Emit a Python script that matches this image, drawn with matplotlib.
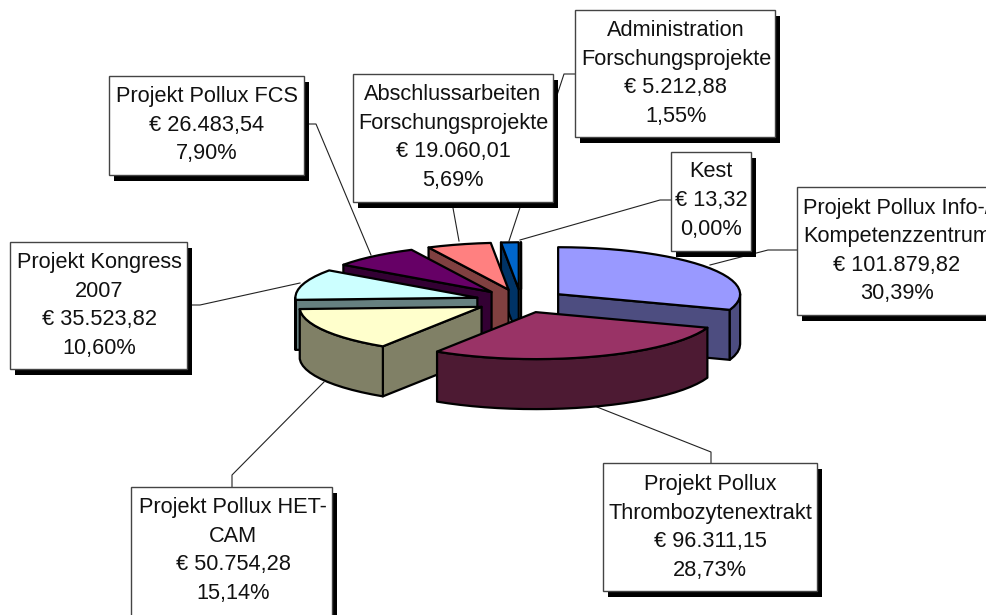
# Exploded 3D pie of project costs, drawn by hand since matplotlib has no 3D pie
import numpy as np
import matplotlib
matplotlib.use('Agg')
import matplotlib.pyplot as plt
from matplotlib.patches import Polygon, Rectangle

plt.rcParams['font.family'] = ['Liberation Sans', 'DejaVu Sans']

# slice data, clockwise from 12 o'clock
names = ['Projekt Pollux Info-/\nKompetenzzentrum',
         'Projekt Pollux\nThrombozytenextrakt',
         'Projekt Pollux HET-\nCAM',
         'Projekt Kongress\n2007',
         'Projekt Pollux FCS',
         'Abschlussarbeiten\nForschungsprojekte',
         'Administration\nForschungsprojekte',
         'Kest']
amounts = [101879.82, 96311.15, 50754.28, 35523.82, 26483.54, 19060.01, 5212.88, 13.32]

top_colors = ['#9999FF', '#993366', '#FFFFCC', '#CCFFFF', '#660066', '#FF8080', '#0066CC', '#CCCCFF']
side_colors = ['#4D4D80', '#4D1A33', '#808066', '#668080', '#330033', '#804040', '#003366', '#666680']

# label boxes: left, top, right, bottom in pixels
boxes = [(797, 187, 997, 315), (603, 463, 817, 591), (131, 487, 332, 617), (10, 242, 187, 369),
         (109, 76, 304, 175), (353, 74, 553, 202), (575, 10, 775, 137), (671, 152, 751, 251)]
text_x = [897, 710, 233, 99, 207, 453, 676, 711]
text_y = [251, 527.5, 550.5, 305.5, 125, 137.5, 73.5, 200.5]

# leader lines, in pixels
leaders = [[(797, 250), (768, 250), (710, 265)],
           [(711, 463), (711, 452), (597, 407)],
           [(232, 487), (232, 475), (324, 382)],
           [(187, 305), (200, 305), (300, 283)],
           [(304, 124), (316, 124), (371, 255)],
           [(453, 208), (459, 241)],
           [(575, 74), (564, 74), (509, 241)],
           [(671, 200), (660, 200), (520, 240)]]

# pie geometry in pixels
cx, cy = 521, 301
rx, ry = 182, 47
depth = 50
explode = 0.25
outline = dict(edgecolor='black', linewidth=1.6, joinstyle='round')


def rim(ox, oy, a):
    a = np.radians(a)
    return np.column_stack([ox + rx * np.sin(a), oy - ry * np.cos(a)])


def arc_angles(a0, a1):
    n = max(int((a1 - a0) / 4), 1) + 1
    return np.linspace(a0, a1, n)


def draw_slice(ax, a0, a1, top, side):
    mid = np.radians((a0 + a1) / 2)
    ox = cx + explode * rx * np.sin(mid)
    oy = cy - explode * ry * np.cos(mid)
    apex = np.array([[ox, oy]])
    down = np.array([0, depth])

    # radial walls that face the viewer
    if a0 > 180:
        p = rim(ox, oy, np.array([a0]))
        ax.add_patch(Polygon(np.vstack([apex, p, p + down, apex + down]), facecolor=side, **outline))
    if a1 < 180:
        p = rim(ox, oy, np.array([a1]))
        ax.add_patch(Polygon(np.vstack([apex, p, p + down, apex + down]), facecolor=side, **outline))

    # outer wall, only the front half of the ellipse
    w0, w1 = max(a0, 90), min(a1, 270)
    if w1 > w0:
        p = rim(ox, oy, arc_angles(w0, w1))
        ax.add_patch(Polygon(np.vstack([p, (p + down)[::-1]]), facecolor=side, **outline))

    p = rim(ox, oy, arc_angles(a0, a1))
    ax.add_patch(Polygon(np.vstack([apex, p]), facecolor=top, **outline))


def euro(v):
    s = f'{v:,.2f}'.replace(',', 'X').replace('.', ',').replace('X', '.')
    return '€ ' + s


fig = plt.figure(figsize=(9.87, 6.15), dpi=100, facecolor='white')
ax = fig.add_axes([0, 0, 1, 1])
ax.set_xlim(0, 987)
ax.set_ylim(615, 0)
ax.axis('off')

for line in leaders:
    xs, ys = zip(*line)
    ax.plot(xs, ys, color='#222222', lw=0.8, zorder=1)

total = sum(amounts)
edges = np.concatenate([[0], np.cumsum(amounts)]) / total * 360

# paint back to front, Thrombozyten sits on top of everything
for i in [7, 6, 5, 4, 3, 2, 0, 1]:
    draw_slice(ax, edges[i], edges[i + 1], top_colors[i], side_colors[i])

for i, name in enumerate(names):
    l, t, r, b = boxes[i]
    ax.add_patch(Rectangle((l + 5, t + 6), r - l, b - t, facecolor='black', edgecolor='none', zorder=5))
    ax.add_patch(Rectangle((l, t), r - l, b - t, facecolor='white', edgecolor='#444444', linewidth=1.0, zorder=6))
    pct = f'{amounts[i] / total * 100:.2f}'.replace('.', ',') + '%'
    label = name + '\n' + euro(amounts[i]) + '\n' + pct
    ax.text(text_x[i], text_y[i], label, ha='center', va='center', ma='center',
            fontsize=15.7, linespacing=1.47, color='#111111', zorder=7)

fig.savefig('out.png', dpi=100, facecolor='white')
